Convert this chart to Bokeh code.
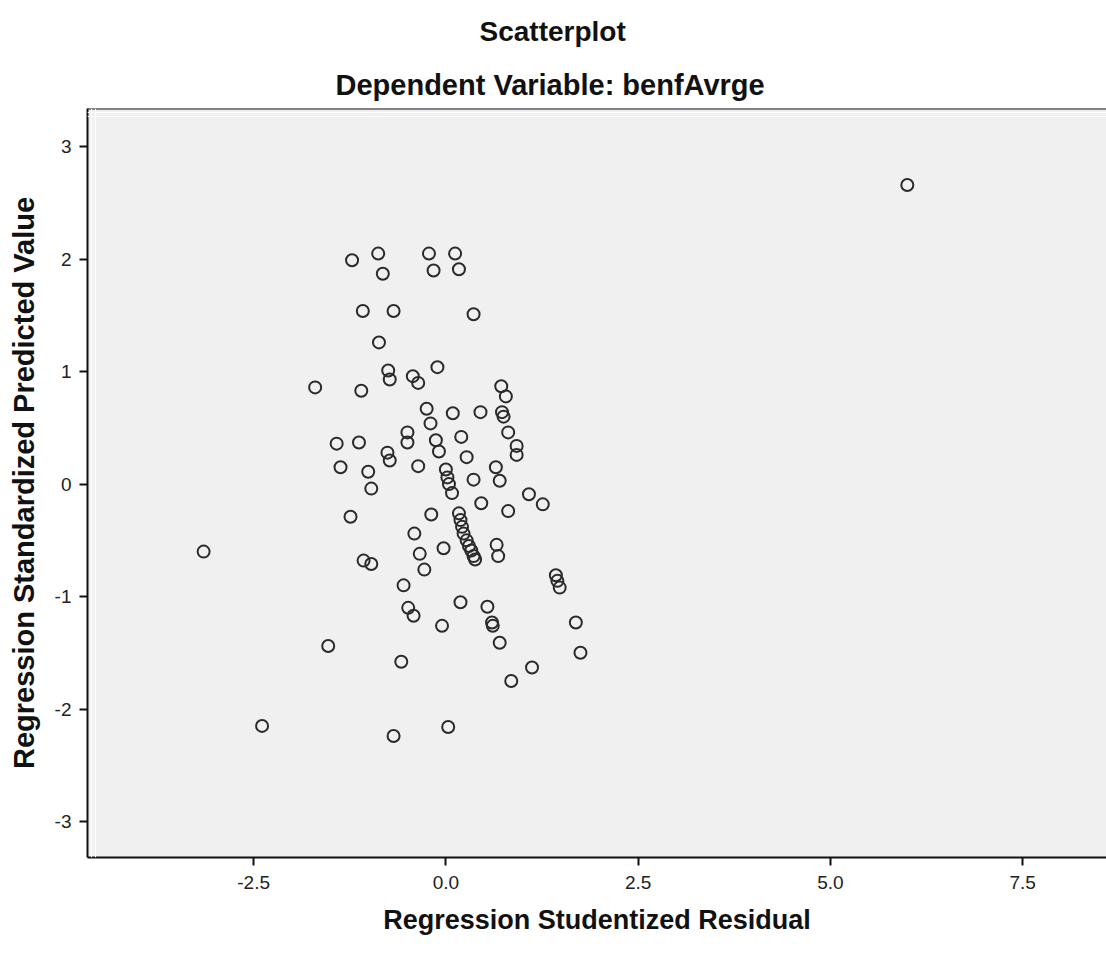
from bokeh.plotting import figure
from bokeh.models import Range1d, FixedTicker, Span, Title
from bokeh.embed import file_html
from bokeh.resources import INLINE

# Regression diagnostics: studentized residual vs standardized predicted value
studentized_residual = [
    6.00, -3.15, -2.39, -1.70, -1.53, -1.42, -1.37, -1.24, -1.22, -1.13,
    -1.10, -1.08, -1.07, -1.01, -0.97, -0.97, -0.88, -0.87, -0.82, -0.76,
    -0.73, -0.75, -0.73, -0.68, -0.68, -0.58, -0.55, -0.50, -0.50, -0.49,
    -0.43, -0.41, -0.42, -0.36, -0.36, -0.34, -0.28, -0.25, -0.22, -0.20,
    -0.19, -0.16, -0.13, -0.11, -0.09, -0.05, -0.03, 0.00, 0.02, 0.04,
    0.03, 0.08, 0.09, 0.12, 0.17, 0.17, 0.19, 0.21, 0.23, 0.27,
    0.30, 0.33, 0.36, 0.38, 0.20, 0.19, 0.27, 0.36, 0.36, 0.45,
    0.46, 0.54, 0.60, 0.61, 0.65, 0.66, 0.68, 0.70, 0.70, 0.72,
    0.73, 0.78, 0.75, 0.81, 0.81, 0.85, 0.92, 0.92, 1.08, 1.12,
    1.26, 1.43, 1.45, 1.48, 1.69, 1.75,
]
standardized_predicted = [
    2.66, -0.60, -2.15, 0.86, -1.44, 0.36, 0.15, -0.29, 1.99, 0.37,
    0.83, 1.54, -0.68, 0.11, -0.04, -0.71, 2.05, 1.26, 1.87, 0.28,
    0.21, 1.01, 0.93, 1.54, -2.24, -1.58, -0.90, 0.46, 0.37, -1.10,
    0.96, -0.44, -1.17, 0.90, 0.16, -0.62, -0.76, 0.67, 2.05, 0.54,
    -0.27, 1.90, 0.39, 1.04, 0.29, -1.26, -0.57, 0.13, 0.06, 0.00,
    -2.16, -0.08, 0.63, 2.05, 1.91, -0.26, -0.32, -0.38, -0.44, -0.50,
    -0.55, -0.59, -0.64, -0.67, 0.42, -1.05, 0.24, 1.51, 0.04, 0.64,
    -0.17, -1.09, -1.23, -1.26, 0.15, -0.54, -0.64, -1.41, 0.03, 0.87,
    0.64, 0.78, 0.60, 0.46, -0.24, -1.75, 0.34, 0.26, -0.09, -1.63,
    -0.18, -0.81, -0.86, -0.92, -1.23, -1.50,
]

x_ticks = [-2.5, 0.0, 2.5, 5.0, 7.5]
x_tick_labels = ["-2.5", "0.0", "2.5", "5.0", "7.5"]
y_ticks = [-3, -2, -1, 0, 1, 2, 3]
y_tick_labels = ["-3", "-2", "-1", "0", "1", "2", "3"]

main_title = "Scatterplot"
sub_title = "Dependent Variable: benfAvrge"
x_label = "Regression Studentized Residual"
y_label = "Regression Standardized Predicted Value"

FONT = "Liberation Sans"
X0, X1 = -4.66, 8.59
Y0, Y1 = -3.32, 3.34

p = figure(
    width=1106, height=953,
    x_range=Range1d(X0, X1), y_range=Range1d(Y0, Y1),
    output_backend="svg", toolbar_location=None, title=None,
    min_border_left=87, min_border_right=0,
    min_border_top=108, min_border_bottom=96,
)
p.background_fill_color = "#f0f0f0"
p.border_fill_color = "white"
p.outline_line_color = None
p.xgrid.visible = False
p.ygrid.visible = False

for ax in (p.xaxis[0], p.yaxis[0]):
    ax.axis_line_color = "#111111"
    ax.axis_line_width = 2
    ax.major_tick_line_color = "#111111"
    ax.major_tick_line_width = 2
    ax.major_tick_out = 8
    ax.major_tick_in = 0
    ax.minor_tick_line_color = None
    ax.major_label_text_font = FONT
    ax.major_label_text_font_size = "19px"
    ax.major_label_text_color = "#222222"
    ax.axis_label_text_font = FONT
    ax.axis_label_text_font_style = "bold"
    ax.axis_label_text_color = "#111111"

p.xaxis[0].ticker = FixedTicker(ticks=x_ticks)
p.xaxis[0].major_label_overrides = {t: s for t, s in zip(x_ticks, x_tick_labels)}
p.xaxis[0].major_label_standoff = 10
p.xaxis[0].axis_label = x_label
p.xaxis[0].axis_label_text_font_size = "27px"
p.xaxis[0].axis_label_standoff = 13

p.yaxis[0].ticker = FixedTicker(ticks=y_ticks)
p.yaxis[0].major_label_overrides = {t: s for t, s in zip(y_ticks, y_tick_labels)}
p.yaxis[0].major_label_standoff = 8
p.yaxis[0].major_label_orientation = "horizontal"
p.yaxis[0].axis_label = y_label
p.yaxis[0].axis_label_text_font_size = "29px"
p.yaxis[0].axis_label_standoff = 12

# frame: dark top rule plus faint inner highlight lines
p.add_layout(Span(location=Y1, dimension="width", line_color="#111111", line_width=2))
px_x = (X1 - X0) / 1019.0
px_y = (Y1 - Y0) / 749.0
for k in (4, 8):
    p.add_layout(Span(location=Y1 - k * px_y, dimension="width", line_color="white", line_width=1))
    p.add_layout(Span(location=X0 + k * px_x, dimension="height", line_color="white", line_width=1))

p.scatter(studentized_residual, standardized_predicted, marker="circle", size=12,
          fill_color=None, line_color="#2a2a2a", line_width=2)

# headings above the frame (first added sits nearest the frame)
p.add_layout(Title(text=sub_title, align="left", offset=248, standoff=15,
                   text_font=FONT, text_font_size="29px", text_font_style="bold",
                   text_color="#111111"), "above")
p.add_layout(Title(text=main_title, align="left", offset=392, standoff=26,
                   text_font=FONT, text_font_size="28px", text_font_style="bold",
                   text_color="#111111"), "above")

open("out.html", "w").write(file_html(p, INLINE))
